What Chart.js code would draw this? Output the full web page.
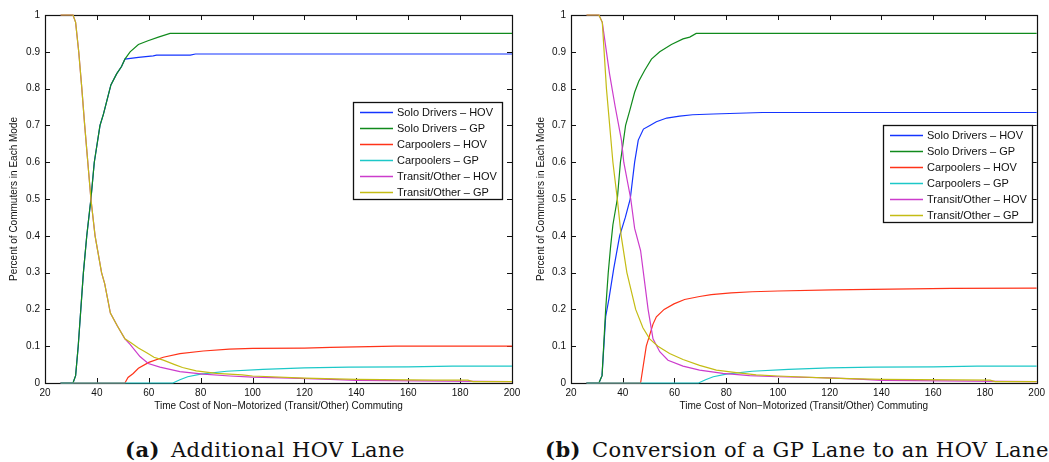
<!DOCTYPE html>
<html>
<head>
<meta charset="utf-8">
<script src="https://cdn.jsdelivr.net/npm/chart.js@4.4.1/dist/chart.umd.min.js"></script>
<style>
  body { margin: 0; background: #fff; }
  #wrap { position: relative; width: 1049px; height: 462px; overflow: hidden; }
  canvas { position: absolute; top: 0; }
  .cap { position: absolute; top: 437px; font-family: "DejaVu Serif", serif; font-size: 21px; letter-spacing: 0.45px; color: #111; white-space: nowrap; }
  .cap b { margin-right: 4px; }
</style>
</head>
<body>
<div id="wrap">
  <canvas id="chartA" width="525" height="420" style="left:0"></canvas>
  <canvas id="chartB" width="524" height="420" style="left:525px"></canvas>
  <div class="cap" id="capA" style="left:125px"><b>(a)</b> Additional HOV Lane</div>
  <div class="cap" id="capB" style="left:545px"><b>(b)</b> Conversion of a GP Lane to an HOV Lane</div>
</div>
<script>
// axis ticks + series names
const xTickValues = [20, 40, 60, 80, 100, 120, 140, 160, 180, 200];
const yTickValues = [0, 0.1, 0.2, 0.3, 0.4, 0.5, 0.6, 0.7, 0.8, 0.9, 1];
const seriesNames = ['Solo Drivers \u2013 HOV', 'Solo Drivers \u2013 GP', 'Carpoolers \u2013 HOV',
                     'Carpoolers \u2013 GP', 'Transit/Other \u2013 HOV', 'Transit/Other \u2013 GP'];
const seriesColors = ['#1434ff', '#108a1c', '#ff3319', '#1cc8c8', '#cc3ccc', '#c4bc14'];

// (a) Additional HOV Lane
const aSoloHovX = [26, 30.8, 31.8, 32.8, 34.8, 36.1, 37.7, 39, 41.2, 42.5, 45.4, 47.6, 49.5, 50.8, 53, 56, 61.7, 63, 76, 78, 200];
const aSoloHovY = [0, 0, 0.02, 0.1, 0.3, 0.4, 0.5, 0.6, 0.7, 0.73, 0.81, 0.84, 0.86, 0.88, 0.882, 0.885, 0.889, 0.891, 0.891, 0.894, 0.894];
const aSoloGpX = [26, 30.8, 31.8, 32.8, 34.8, 36.1, 37.7, 39, 41.2, 42.5, 45.4, 47.6, 49.5, 50.8, 52.8, 56, 59.7, 63.7, 68.2, 200];
const aSoloGpY = [0, 0, 0.02, 0.1, 0.3, 0.4, 0.5, 0.6, 0.7, 0.73, 0.81, 0.84, 0.86, 0.88, 0.9, 0.92, 0.93, 0.94, 0.95, 0.95];
const aCarHovX = [26, 50.8, 52, 54, 56, 60, 65.6, 72, 81, 91, 100, 120, 130, 155, 200];
const aCarHovY = [0, 0, 0.015, 0.026, 0.04, 0.056, 0.07, 0.08, 0.087, 0.092, 0.094, 0.095, 0.097, 0.1, 0.1];
const carGpX = [26, 69.3, 72, 75, 80, 90, 104, 120, 137, 160, 177, 200];
const carGpY = [0, 0, 0.009, 0.017, 0.024, 0.032, 0.037, 0.041, 0.043, 0.044, 0.046, 0.046];
const aTranHovX = [26, 30.8, 31.8, 33, 34.2, 35.3, 36.5, 37.7, 39.3, 41.8, 43, 45.2, 47.9, 50.8, 52.8, 56.6, 59.8, 64.3, 72, 81, 91.3, 100, 115, 130, 140, 175, 200];
const aTranHovY = [1, 1, 0.98, 0.9, 0.8, 0.7, 0.6, 0.5, 0.4, 0.3, 0.27, 0.19, 0.155, 0.12, 0.105, 0.072, 0.053, 0.043, 0.031, 0.024, 0.019, 0.016, 0.013, 0.01, 0.007, 0.005, 0.004];
const aTranGpX = [26, 30.8, 31.8, 33, 34.2, 35.3, 36.5, 37.7, 39.3, 41.8, 43, 45.2, 47.9, 50.8, 53, 56, 59.2, 62, 65.6, 70, 73, 78.3, 86, 96, 100, 120, 140, 170, 183, 185, 200];
const aTranGpY = [1, 1, 0.98, 0.9, 0.8, 0.7, 0.6, 0.5, 0.4, 0.3, 0.27, 0.19, 0.155, 0.12, 0.11, 0.095, 0.082, 0.07, 0.062, 0.05, 0.042, 0.033, 0.026, 0.022, 0.019, 0.013, 0.01, 0.008, 0.008, 0.004, 0.004];

// (b) Conversion of a GP Lane to an HOV Lane
const bSoloHovX = [26, 30.8, 32, 33.4, 34.7, 36.5, 38.8, 41, 42.9, 44.6, 46, 48, 50.5, 53, 57, 62, 67, 75, 94, 200];
const bSoloHovY = [0, 0, 0.02, 0.18, 0.23, 0.31, 0.4, 0.45, 0.5, 0.6, 0.66, 0.69, 0.7, 0.71, 0.72, 0.725, 0.729, 0.731, 0.735, 0.735];
const bSoloGpX = [26, 30.8, 32, 33.4, 34.4, 35.3, 36.2, 37.9, 39.1, 41.1, 42.7, 44.6, 46.2, 48.5, 51.1, 54.3, 58.8, 63.3, 65.9, 68.4, 200];
const bSoloGpY = [0, 0, 0.02, 0.2, 0.3, 0.37, 0.43, 0.5, 0.6, 0.7, 0.74, 0.79, 0.82, 0.85, 0.88, 0.9, 0.92, 0.935, 0.94, 0.95, 0.95];
const bCarHovX = [26, 46.9, 49.1, 51.7, 53, 56, 59.8, 63.9, 69.7, 74.2, 81.9, 90, 100, 121, 167, 200];
const bCarHovY = [0, 0, 0.1, 0.16, 0.18, 0.2, 0.215, 0.227, 0.235, 0.24, 0.245, 0.248, 0.25, 0.253, 0.257, 0.258];
const bTranHovX = [26, 30.8, 32.1, 34.9, 37.1, 39.5, 40.4, 43.1, 44.6, 46.9, 49.8, 51.7, 54.3, 57.5, 63.3, 69.7, 78.7, 89, 100, 120, 133, 140, 175, 200];
const bTranHovY = [1, 1, 0.98, 0.84, 0.75, 0.66, 0.6, 0.5, 0.42, 0.36, 0.2, 0.12, 0.085, 0.062, 0.046, 0.035, 0.026, 0.02, 0.017, 0.014, 0.01, 0.007, 0.005, 0.004];
const bTranGpX = [26, 30.8, 32.1, 33.7, 36.2, 37.9, 39.4, 41.6, 45, 47.8, 50.4, 53.6, 58.1, 63.3, 69.7, 76.2, 83.9, 91.6, 100, 120, 140, 182, 184, 200];
const bTranGpY = [1, 1, 0.98, 0.8, 0.6, 0.5, 0.4, 0.3, 0.2, 0.15, 0.12, 0.1, 0.08, 0.064, 0.048, 0.035, 0.028, 0.022, 0.019, 0.013, 0.01, 0.008, 0.004, 0.004];

const FONT = '"Liberation Sans", Arial, sans-serif';

// matlab style box: inward ticks on all four sides, drawn under the lines
const boxPlugin = {
  id: 'mBox',
  beforeDatasetsDraw(chart) {
    const { ctx, chartArea: a, scales: { x, y } } = chart;
    ctx.save();
    ctx.strokeStyle = '#111';
    ctx.lineWidth = 1;
    ctx.beginPath();
    x.ticks.forEach(t => {
      const px = Math.round(x.getPixelForValue(t.value)) + 0.5;
      ctx.moveTo(px, a.bottom); ctx.lineTo(px, a.bottom - 5);
      ctx.moveTo(px, a.top); ctx.lineTo(px, a.top + 5);
    });
    y.ticks.forEach(t => {
      const py = Math.round(y.getPixelForValue(t.value)) + 0.5;
      ctx.moveTo(a.left, py); ctx.lineTo(a.left + 5, py);
      ctx.moveTo(a.right, py); ctx.lineTo(a.right - 5, py);
    });
    ctx.stroke();
    ctx.lineWidth = 1.2;
    ctx.strokeRect(Math.round(a.left) + 0.5, Math.round(a.top) + 0.5, Math.round(a.right - a.left), Math.round(a.bottom - a.top));
    ctx.restore();
  }
};

// legend box inside the axes
const legendPlugin = {
  id: 'mLegend',
  afterDatasetsDraw(chart, args, opts) {
    const { ctx } = chart;
    const bx = opts.x, by = opts.y, bw = 149, bh = 97;
    ctx.save();
    ctx.fillStyle = '#fff';
    ctx.fillRect(bx, by, bw, bh);
    ctx.strokeStyle = '#111';
    ctx.lineWidth = 1.3;
    ctx.strokeRect(bx + 0.5, by + 0.5, bw, bh);
    ctx.font = '11px ' + FONT;
    ctx.textBaseline = 'middle';
    seriesNames.forEach((name, i) => {
      const ry = Math.round(by + 10 + i * 15.9) + 0.5;
      ctx.beginPath();
      ctx.strokeStyle = seriesColors[i];
      ctx.lineWidth = 1.3;
      ctx.moveTo(bx + 7, ry);
      ctx.lineTo(bx + 40, ry);
      ctx.stroke();
      ctx.fillStyle = '#111';
      ctx.fillText(name, bx + 44, ry);
    });
    ctx.restore();
  }
};

function makeChart(id, xs, ys, geom) {
  const datasets = seriesNames.map((name, i) => ({
    label: name,
    data: xs[i].map((v, j) => ({ x: v, y: ys[i][j] })),
    borderColor: seriesColors[i],
    borderWidth: 1.2,
    pointRadius: 0,
    tension: 0,
    clip: false,
    order: seriesNames.length - i
  }));
  return new Chart(document.getElementById(id), {
    type: 'line',
    data: { datasets },
    plugins: [boxPlugin, legendPlugin],
    options: {
      responsive: false,
      animation: false,
      devicePixelRatio: 1,
      layout: { padding: { left: 0, right: geom.padRight, top: 15, bottom: 0 } },
      plugins: {
        legend: { display: false },
        tooltip: { enabled: false },
        mLegend: { x: geom.legX, y: geom.legY }
      },
      scales: {
        x: {
          type: 'linear', min: 20, max: 200,
          afterBuildTicks: s => { s.ticks = xTickValues.map(v => ({ value: v })); },
          afterFit: s => { s.height = 37; },
          grid: { display: false, drawTicks: false },
          border: { display: false },
          ticks: { padding: 4, color: '#111', font: { family: FONT, size: 10 }, maxRotation: 0 },
          title: { display: true, text: 'Time Cost of Non\u2212Motorized (Transit/Other) Commuting',
                   color: '#111', font: { family: FONT, size: 10 }, padding: { top: 0, bottom: 8 } }
        },
        y: {
          type: 'linear', min: 0, max: 1,
          afterBuildTicks: s => { s.ticks = yTickValues.map(v => ({ value: v })); },
          afterFit: s => { s.width = geom.yW; },
          grid: { display: false, drawTicks: false },
          border: { display: false },
          ticks: { padding: 5, color: '#111', font: { family: FONT, size: 10 },
                   callback: v => String(+v.toFixed(1)) },
          title: { display: true, text: 'Percent of Commuters in Each Mode',
                   color: '#111', font: { family: FONT, size: 10 }, padding: { top: geom.yTitlePad, bottom: 0 } }
        }
      }
    }
  });
}

makeChart('chartA',
  [aSoloHovX, aSoloGpX, aCarHovX, carGpX, aTranHovX, aTranGpX],
  [aSoloHovY, aSoloGpY, aCarHovY, carGpY, aTranHovY, aTranGpY],
  { yW: 45, padRight: 13, yTitlePad: 8, legX: 353, legY: 102 });

makeChart('chartB',
  [bSoloHovX, bSoloGpX, bCarHovX, carGpX, bTranHovX, bTranGpX],
  [bSoloHovY, bSoloGpY, bCarHovY, carGpY, bTranHovY, bTranGpY],
  { yW: 46, padRight: 12, yTitlePad: 10, legX: 358, legY: 125 });
</script>
</body>
</html>
